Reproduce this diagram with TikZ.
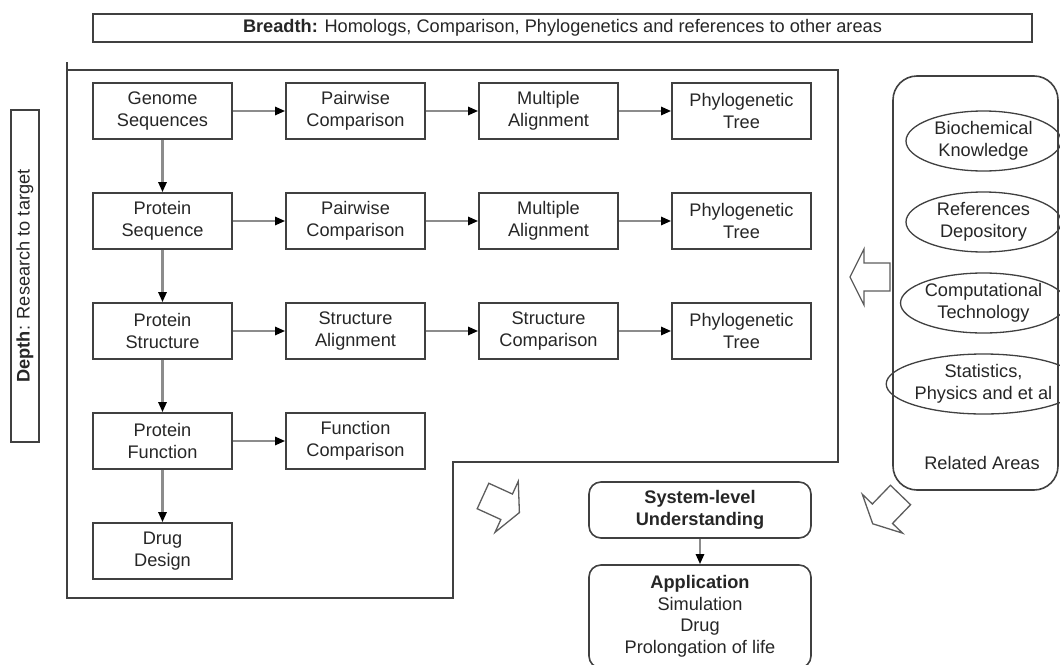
\documentclass[tikz,border=0pt]{standalone}
\usepackage{fontspec}
\setmainfont{Liberation Sans}
\usetikzlibrary{arrows.meta,shapes.geometric}
\definecolor{boxline}{HTML}{404040}
\definecolor{linkline}{HTML}{8C8C8C}
\definecolor{inkgray}{HTML}{262626}
\tikzset{pics/hollowarrow/.style={code={
    \draw[line width=1.3pt, draw=boxline!85, fill=white] (0,-14) -- (26,-14) -- (26,-28) -- (40,0) -- (26,28) -- (26,14) -- (0,14) -- cycle;}}}
\begin{document}
\begin{tikzpicture}[x=1pt, y=-1pt, node distance=110pt, >={Triangle[length=10pt,width=8pt,color=black]},
    font=\fontsize{18.2}{21.5}\selectfont, text=inkgray,
    stage/.style={draw=boxline, line width=1.6pt, minimum width=139pt, minimum height=56pt, inner sep=0pt, align=center},
    outcome/.style={stage, rounded corners=12pt, minimum width=222pt},
    topic/.style={draw=boxline, line width=1.3pt, ellipse, minimum width=155pt, minimum height=60pt, inner sep=0pt, align=center},
    banner/.style={draw=boxline, line width=1.6pt, inner sep=0pt, minimum height=28pt},
    link/.style={->, draw=linkline, line width=2.4pt}]
    \useasboundingbox (0,0) rectangle (1060,664);
    \node (breadth) [banner, minimum width=939pt] at (562.5,28) {\textbf{Breadth:} Homologs, Comparison, Phylogenetics and references to other areas};
    \node (depth) [banner, rotate=90, minimum width=332pt] at (25,276) {\textbf{Depth}: Research to target};
    \draw[boxline, line width=1.6pt] (67,62) -- (67,598) -- (453,598) -- (453,462) -- (838,462) -- (838,70) -- (67,70);
    \node (genome) [stage] at (162.5,111) {Genome\\Sequences};
    \node (pwgen) [stage, right of=genome, xshift=83pt] {Pairwise\\Comparison};
    \node (magen) [stage, right of=pwgen, xshift=83pt] {Multiple\\Alignment};
    \node (ptgen) [stage, right of=magen, xshift=83pt] {Phylogenetic\\Tree};
    \node (pseq) [stage, below of=genome] {Protein\\Sequence};
    \node (pwseq) [stage, right of=pseq, xshift=83pt] {Pairwise\\Comparison};
    \node (maseq) [stage, right of=pwseq, xshift=83pt] {Multiple\\Alignment};
    \node (ptseq) [stage, right of=maseq, xshift=83pt] {Phylogenetic\\Tree};
    \node (pstr) [stage, below of=pseq] {Protein\\Structure};
    \node (salign) [stage, right of=pstr, xshift=83pt] {Structure\\Alignment};
    \node (scomp) [stage, right of=salign, xshift=83pt] {Structure\\Comparison};
    \node (ptstr) [stage, right of=scomp, xshift=83pt] {Phylogenetic\\Tree};
    \node (pfun) [stage, below of=pstr] {Protein\\Function};
    \node (fcomp) [stage, right of=pfun, xshift=83pt] {Function\\Comparison};
    \node (drug) [stage, below of=pfun] {Drug\\Design};
    \node (areas) [draw=boxline, line width=1.6pt, rounded corners=24pt, minimum width=165pt, minimum height=414pt] at (975.5,283) {};
    \node (bio) [topic] at (983.5,141) {Biochemical\\Knowledge};
    \node (refs) [topic, below of=bio, node distance=81pt] {References\\Depository};
    \node (comput) [topic, below of=refs, node distance=81pt] {Computational\\Technology};
    \node (stats) [topic, below of=comput, node distance=81pt] {Statistics,\\Physics and et al};
    \node (relname) at (982,463) {Related Areas};
    \node (system) [outcome] at (700,510) {\textbf{System-level}\\\textbf{Understanding}};
    \node (app) [outcome, minimum height=103pt] at (700,616.5) {\textbf{Application}\\Simulation\\Drug\\Prolongation of life};
    \pic[rotate=180] at (890,277) {hollowarrow};
    \pic[rotate=-24.5] at (483,496) {hollowarrow};
    \pic[rotate=-134] at (900.5,495) {hollowarrow};
    \draw[link] (genome) -- (pwgen);
    \draw[link] (pwgen) -- (magen);
    \draw[link] (magen) -- (ptgen);
    \draw[link] (genome) -- (pseq);
    \draw[link] (pseq) -- (pwseq);
    \draw[link] (pwseq) -- (maseq);
    \draw[link] (maseq) -- (ptseq);
    \draw[link] (pseq) -- (pstr);
    \draw[link] (pstr) -- (salign);
    \draw[link] (salign) -- (scomp);
    \draw[link] (scomp) -- (ptstr);
    \draw[link] (pstr) -- (pfun);
    \draw[link] (pfun) -- (fcomp);
    \draw[link] (pfun) -- (drug);
    \draw[link] (system) -- (app);
\end{tikzpicture}
\end{document}
